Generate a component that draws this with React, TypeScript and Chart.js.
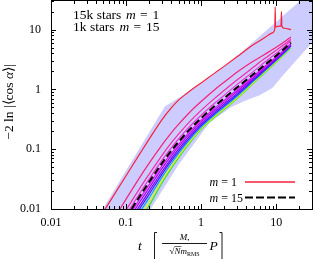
import React, { useEffect, useRef } from "react";
import { Chart, registerables } from "chart.js";

Chart.register(...registerables);

const SERIF = '"Liberation Serif", "Times New Roman", serif';

// axis ticks
const xTickValues = [0.01, 0.1, 1, 10];
const xTickLabels = ["0.01", "0.1", "1", "10"];
const yTickValues = [0.01, 0.1, 1, 10];
const yTickLabels = ["0.01", "0.1", "1", "10"];
const minorFactors = [2, 3, 4, 5, 6, 7, 8, 9];

// m = 1, 15k stars (red)
const redT = [0.045, 0.1, 0.15, 0.2, 0.3, 0.4, 0.5, 0.6, 0.7, 1, 1.5, 2, 3, 4, 5, 7, 8.9, 9.6, 9.7, 9.8, 10.4, 11.6, 11.75, 11.9, 13, 15.7];
const redV = [0.0073, 0.036, 0.081, 0.143, 0.31, 0.49, 0.66, 0.8, 0.93, 1.28, 1.85, 2.4, 3.5, 4.6, 5.6, 7.3, 8.8, 10.5, 24, 11, 11.3, 11.5, 20, 11.3, 10.5, 10];

// pink lines (15k stars, higher m)
const pinkT = [0.08, 0.1, 0.15, 0.2, 0.3, 0.4, 0.5, 0.7, 1, 1.5, 2, 3, 5, 7, 10, 13, 15.7];
const pink2V = [0.0093, 0.0146, 0.0328, 0.0567, 0.117, 0.188, 0.26, 0.411, 0.627, 0.978, 1.3, 1.93, 2.97, 3.83, 5.04, 6.3, 7.5];
const pink3V = [0.0061, 0.0096, 0.0215, 0.0371, 0.0783, 0.127, 0.178, 0.286, 0.446, 0.7, 0.945, 1.43, 2.36, 3.27, 4.53, 5.72, 6.9];
const pink4V = [0.0051, 0.008, 0.0178, 0.0308, 0.065, 0.105, 0.148, 0.237, 0.37, 0.582, 0.784, 1.2, 2.0, 2.83, 4.02, 5.29, 6.5];

// bundle lines + m = 15, 1k stars (black dashed)
const bundleT = [0.1, 0.15, 0.2, 0.3, 0.4, 0.5, 0.7, 1, 1.5, 2, 3, 5, 7, 10, 13, 15.7];
const blackV = [0.0071, 0.0159, 0.0275, 0.058, 0.094, 0.132, 0.212, 0.33, 0.52, 0.7, 1.07, 1.8, 2.55, 3.65, 4.85, 6.0];
const b1V = [0.0064, 0.0143, 0.0248, 0.0525, 0.0854, 0.12, 0.194, 0.304, 0.478, 0.644, 0.984, 1.68, 2.41, 3.49, 4.68, 5.82];
const b2V = [0.0057, 0.0127, 0.022, 0.0473, 0.0776, 0.11, 0.18, 0.284, 0.447, 0.602, 0.92, 1.59, 2.3, 3.35, 4.52, 5.64];
const b3V = [0.005, 0.0111, 0.0193, 0.042, 0.0698, 0.0999, 0.165, 0.264, 0.416, 0.56, 0.856, 1.5, 2.18, 3.21, 4.36, 5.46];
const b4V = [0.0044, 0.0099, 0.0171, 0.0379, 0.0635, 0.0916, 0.153, 0.248, 0.39, 0.525, 0.803, 1.43, 2.09, 3.11, 4.24, 5.34];
const b5V = [0.0038, 0.0086, 0.0149, 0.0338, 0.0576, 0.0841, 0.143, 0.234, 0.369, 0.497, 0.76, 1.37, 2.02, 3.02, 4.13, 5.22];
const b6V = [0.0033, 0.0073, 0.0127, 0.0298, 0.0517, 0.0766, 0.132, 0.221, 0.348, 0.469, 0.717, 1.3, 1.93, 2.9, 3.98, 5.04];
const b7V = [0.0028, 0.0064, 0.011, 0.0269, 0.0478, 0.0717, 0.126, 0.215, 0.338, 0.455, 0.696, 1.27, 1.88, 2.83, 3.88, 4.92];

// shaded band outline
const bandT = [0.035, 0.329, 1.05, 2.38, 30, 30, 12, 8.9, 6, 4, 2.5, 1.3, 0.5, 0.15, 0.035];
const bandV = [0.005, 0.518, 1.29, 2.79, 45, 6.04, 1.65, 1.05, 0.8, 0.66, 0.5, 0.28, 0.055, 0.005, 0.005];

function drawParts(ctx: CanvasRenderingContext2D, parts: { t: string; f: string; dy?: number }[], x: number, y: number, align: "left" | "center" | "right") {
  let w = 0;
  for (const p of parts) { ctx.font = p.f; w += ctx.measureText(p.t).width; }
  let cx = align === "left" ? x : align === "center" ? x - w / 2 : x - w;
  for (const p of parts) {
    ctx.font = p.f;
    ctx.fillText(p.t, cx, y + (p.dy || 0));
    cx += ctx.measureText(p.t).width;
  }
  return w;
}

const framePlugin = {
  id: "frame",
  afterDatasetsDraw(chart: any) {
    const { ctx, chartArea: a, scales } = chart;
    const xs = scales.x, ys = scales.y;
    ctx.save();
    ctx.strokeStyle = "#000";
    ctx.lineWidth = 1;
    ctx.beginPath();
    const xticks: [number, boolean][] = [];
    for (const d of xTickValues) { xticks.push([d, true]); for (const m of minorFactors) xticks.push([d * m, false]); }
    for (const [v, major] of xticks) {
      if (v > 30) continue;
      const p = Math.round(xs.getPixelForValue(v)) + 0.5;
      const len = major ? 5 : 3;
      ctx.moveTo(p, a.bottom); ctx.lineTo(p, a.bottom - len);
      ctx.moveTo(p, a.top); ctx.lineTo(p, a.top + len);
    }
    const yticks: [number, boolean][] = [];
    for (const d of yTickValues) { yticks.push([d, true]); for (const m of minorFactors) yticks.push([d * m, false]); }
    for (const [v, major] of yticks) {
      if (v > 30) continue;
      const p = Math.round(ys.getPixelForValue(v)) + 0.5;
      const len = major ? 5 : 3;
      ctx.moveTo(a.left, p); ctx.lineTo(a.left + len, p);
      ctx.moveTo(a.right, p); ctx.lineTo(a.right - len, p);
    }
    ctx.stroke();
    ctx.strokeRect(a.left + 0.5, a.top - 0.5, a.right - a.left, a.bottom - a.top + 1);

    // texts
    ctx.fillStyle = "#000";
    ctx.textBaseline = "alphabetic";
    const N = `12px ${SERIF}`, I = `italic 12px ${SERIF}`;
    const N13 = `13.5px ${SERIF}`, I13 = `italic 13.5px ${SERIF}`;
    drawParts(ctx, [{ t: "15k stars", f: N13 }], 73, 19, "left");
    drawParts(ctx, [{ t: "m", f: I13 }], 126, 19, "left");
    drawParts(ctx, [{ t: "=", f: N13 }], 140, 19, "left");
    drawParts(ctx, [{ t: "1", f: N13 }], 152.5, 19, "left");
    drawParts(ctx, [{ t: "1k stars", f: N13 }], 73, 31, "left");
    drawParts(ctx, [{ t: "m", f: I13 }], 119.5, 31, "left");
    drawParts(ctx, [{ t: "=", f: N13 }], 133.5, 31, "left");
    drawParts(ctx, [{ t: "15", f: N13 }], 146, 31, "left");

    // legend
    drawParts(ctx, [{ t: "m", f: I }, { t: " = 1", f: N }], 237, 186, "right");
    drawParts(ctx, [{ t: "m", f: I }, { t: " = 15", f: N }], 243, 201.5, "right");
    ctx.strokeStyle = "#f5203c"; ctx.lineWidth = 1.3;
    ctx.beginPath(); ctx.moveTo(245, 182); ctx.lineTo(295, 182); ctx.stroke();
    ctx.strokeStyle = "#000"; ctx.lineWidth = 2; ctx.setLineDash([8, 3]);
    ctx.beginPath(); ctx.moveTo(245, 197.5); ctx.lineTo(295, 197.5); ctx.stroke();
    ctx.setLineDash([]);

    // y title
    ctx.save();
    ctx.translate(13, 102);
    ctx.rotate(-Math.PI / 2);
    drawParts(ctx, [{ t: "\u22122 ln |\u27E8cos ", f: N13 }, { t: "\u03B1", f: I13 }, { t: "\u27E9|", f: N13 }], 0, 0, "center");
    ctx.restore();

    // x title
    const S = `italic 9px ${SERIF}`, SN = `9px ${SERIF}`, SS = `6px ${SERIF}`;
    drawParts(ctx, [{ t: "t", f: I13 }], 138, 250, "left");
    ctx.lineWidth = 0.9;
    ctx.beginPath();
    ctx.moveTo(157, 232.5); ctx.lineTo(154.5, 232.5); ctx.lineTo(154.5, 262);
    ctx.moveTo(219.5, 232.5); ctx.lineTo(222, 232.5); ctx.lineTo(222, 262);
    ctx.moveTo(162, 243.5); ctx.lineTo(207, 243.5);
    ctx.stroke();
    drawParts(ctx, [{ t: "M", f: S }, { t: "\u2022", f: SS, dy: 2 }], 184.5, 240, "center");
    const w = drawParts(ctx, [{ t: "\u221A", f: SN }, { t: "N", f: S }, { t: "m", f: S }, { t: "RMS", f: SS, dy: 2 }], 184.5, 254, "center");
    ctx.lineWidth = 0.6;
    ctx.beginPath(); ctx.moveTo(184.5 - w / 2 + 5, 246.5); ctx.lineTo(184.5 - w / 2 + 12, 246.5); ctx.stroke();
    drawParts(ctx, [{ t: "P", f: I13 }], 209.5, 250, "left");
    ctx.restore();
  },
};

export default function App() {
  const ref = useRef<HTMLCanvasElement>(null);
  useEffect(() => {
    document.body.style.margin = "0";
    const canvas = ref.current!;
    const pts = (ts: number[], vs: number[]) => ts.map((t, i) => ({ x: t, y: vs[i] }));
    const line = (label: string, ts: number[], vs: number[], color: string, order: number, extra: any = {}) => ({
      label, data: pts(ts, vs), borderColor: color, backgroundColor: color, borderWidth: 1.2,
      pointRadius: 0, fill: false, cubicInterpolationMode: "monotone", order, ...extra,
    });
    const chart = new Chart(canvas, {
      type: "line",
      data: {
        datasets: [
          line("1k stars m = 15", bundleT, blackV, "#000000", 0, { borderWidth: 2, borderDash: [7, 3.5] }),
          line("m = 1", redT, redV, "#f5203c", 1),
          line("pink2", pinkT, pink2V, "#f5207a", 2),
          line("pink3", pinkT, pink3V, "#f528a8", 3),
          line("pink4", pinkT, pink4V, "#f030d8", 4),
          line("b1", bundleT, b1V, "#e010f0", 5),
          line("b2", bundleT, b2V, "#b000f0", 6),
          line("b3", bundleT, b3V, "#7a00ff", 7),
          line("b4", bundleT, b4V, "#3c1cff", 8),
          line("b5", bundleT, b5V, "#00a0ff", 9),
          line("b6", bundleT, b6V, "#e0f000", 10),
          line("b7", bundleT, b7V, "#30e030", 11),
          {
            label: "band", data: pts(bandT, bandV), borderWidth: 0, borderColor: "rgba(0,0,0,0)",
            backgroundColor: "rgba(0,0,255,0.2)", fill: "shape", pointRadius: 0, tension: 0, order: 100,
          },
        ] as any,
      },
      options: {
        responsive: false,
        animation: false,
        devicePixelRatio: 1,
        layout: { padding: { top: 1, right: 1, left: 0, bottom: 0 } },
        plugins: { legend: { display: false }, tooltip: { enabled: false } },
        scales: {
          x: {
            type: "logarithmic", min: 0.01, max: 30,
            grid: { display: false, drawTicks: false }, border: { display: false },
            afterBuildTicks: (s: any) => { s.ticks = xTickValues.map((v) => ({ value: v })); },
            afterFit: (s: any) => { s.height = 50; s.paddingLeft = 0; s.paddingRight = 0; },
            ticks: {
              autoSkip: false, maxRotation: 0, padding: 7, color: "#000",
              font: { family: SERIF, size: 12 },
              callback: (v: any) => { const i = xTickValues.indexOf(Number(v)); return i >= 0 ? xTickLabels[i] : ""; },
            },
          },
          y: {
            type: "logarithmic", min: 0.01, max: 30,
            grid: { display: false, drawTicks: false }, border: { display: false },
            afterBuildTicks: (s: any) => { s.ticks = yTickValues.map((v) => ({ value: v })); },
            afterFit: (s: any) => { s.width = 51; s.paddingTop = 0; s.paddingBottom = 0; },
            ticks: {
              autoSkip: false, padding: 10, color: "#000",
              font: { family: SERIF, size: 12 },
              callback: (v: any) => { const i = yTickValues.indexOf(Number(v)); return i >= 0 ? yTickLabels[i] : ""; },
            },
          },
        },
      } as any,
      plugins: [framePlugin],
    });
    return () => chart.destroy();
  }, []);
  return <canvas ref={ref} width={313} height={259} style={{ display: "block" }} />;
}
